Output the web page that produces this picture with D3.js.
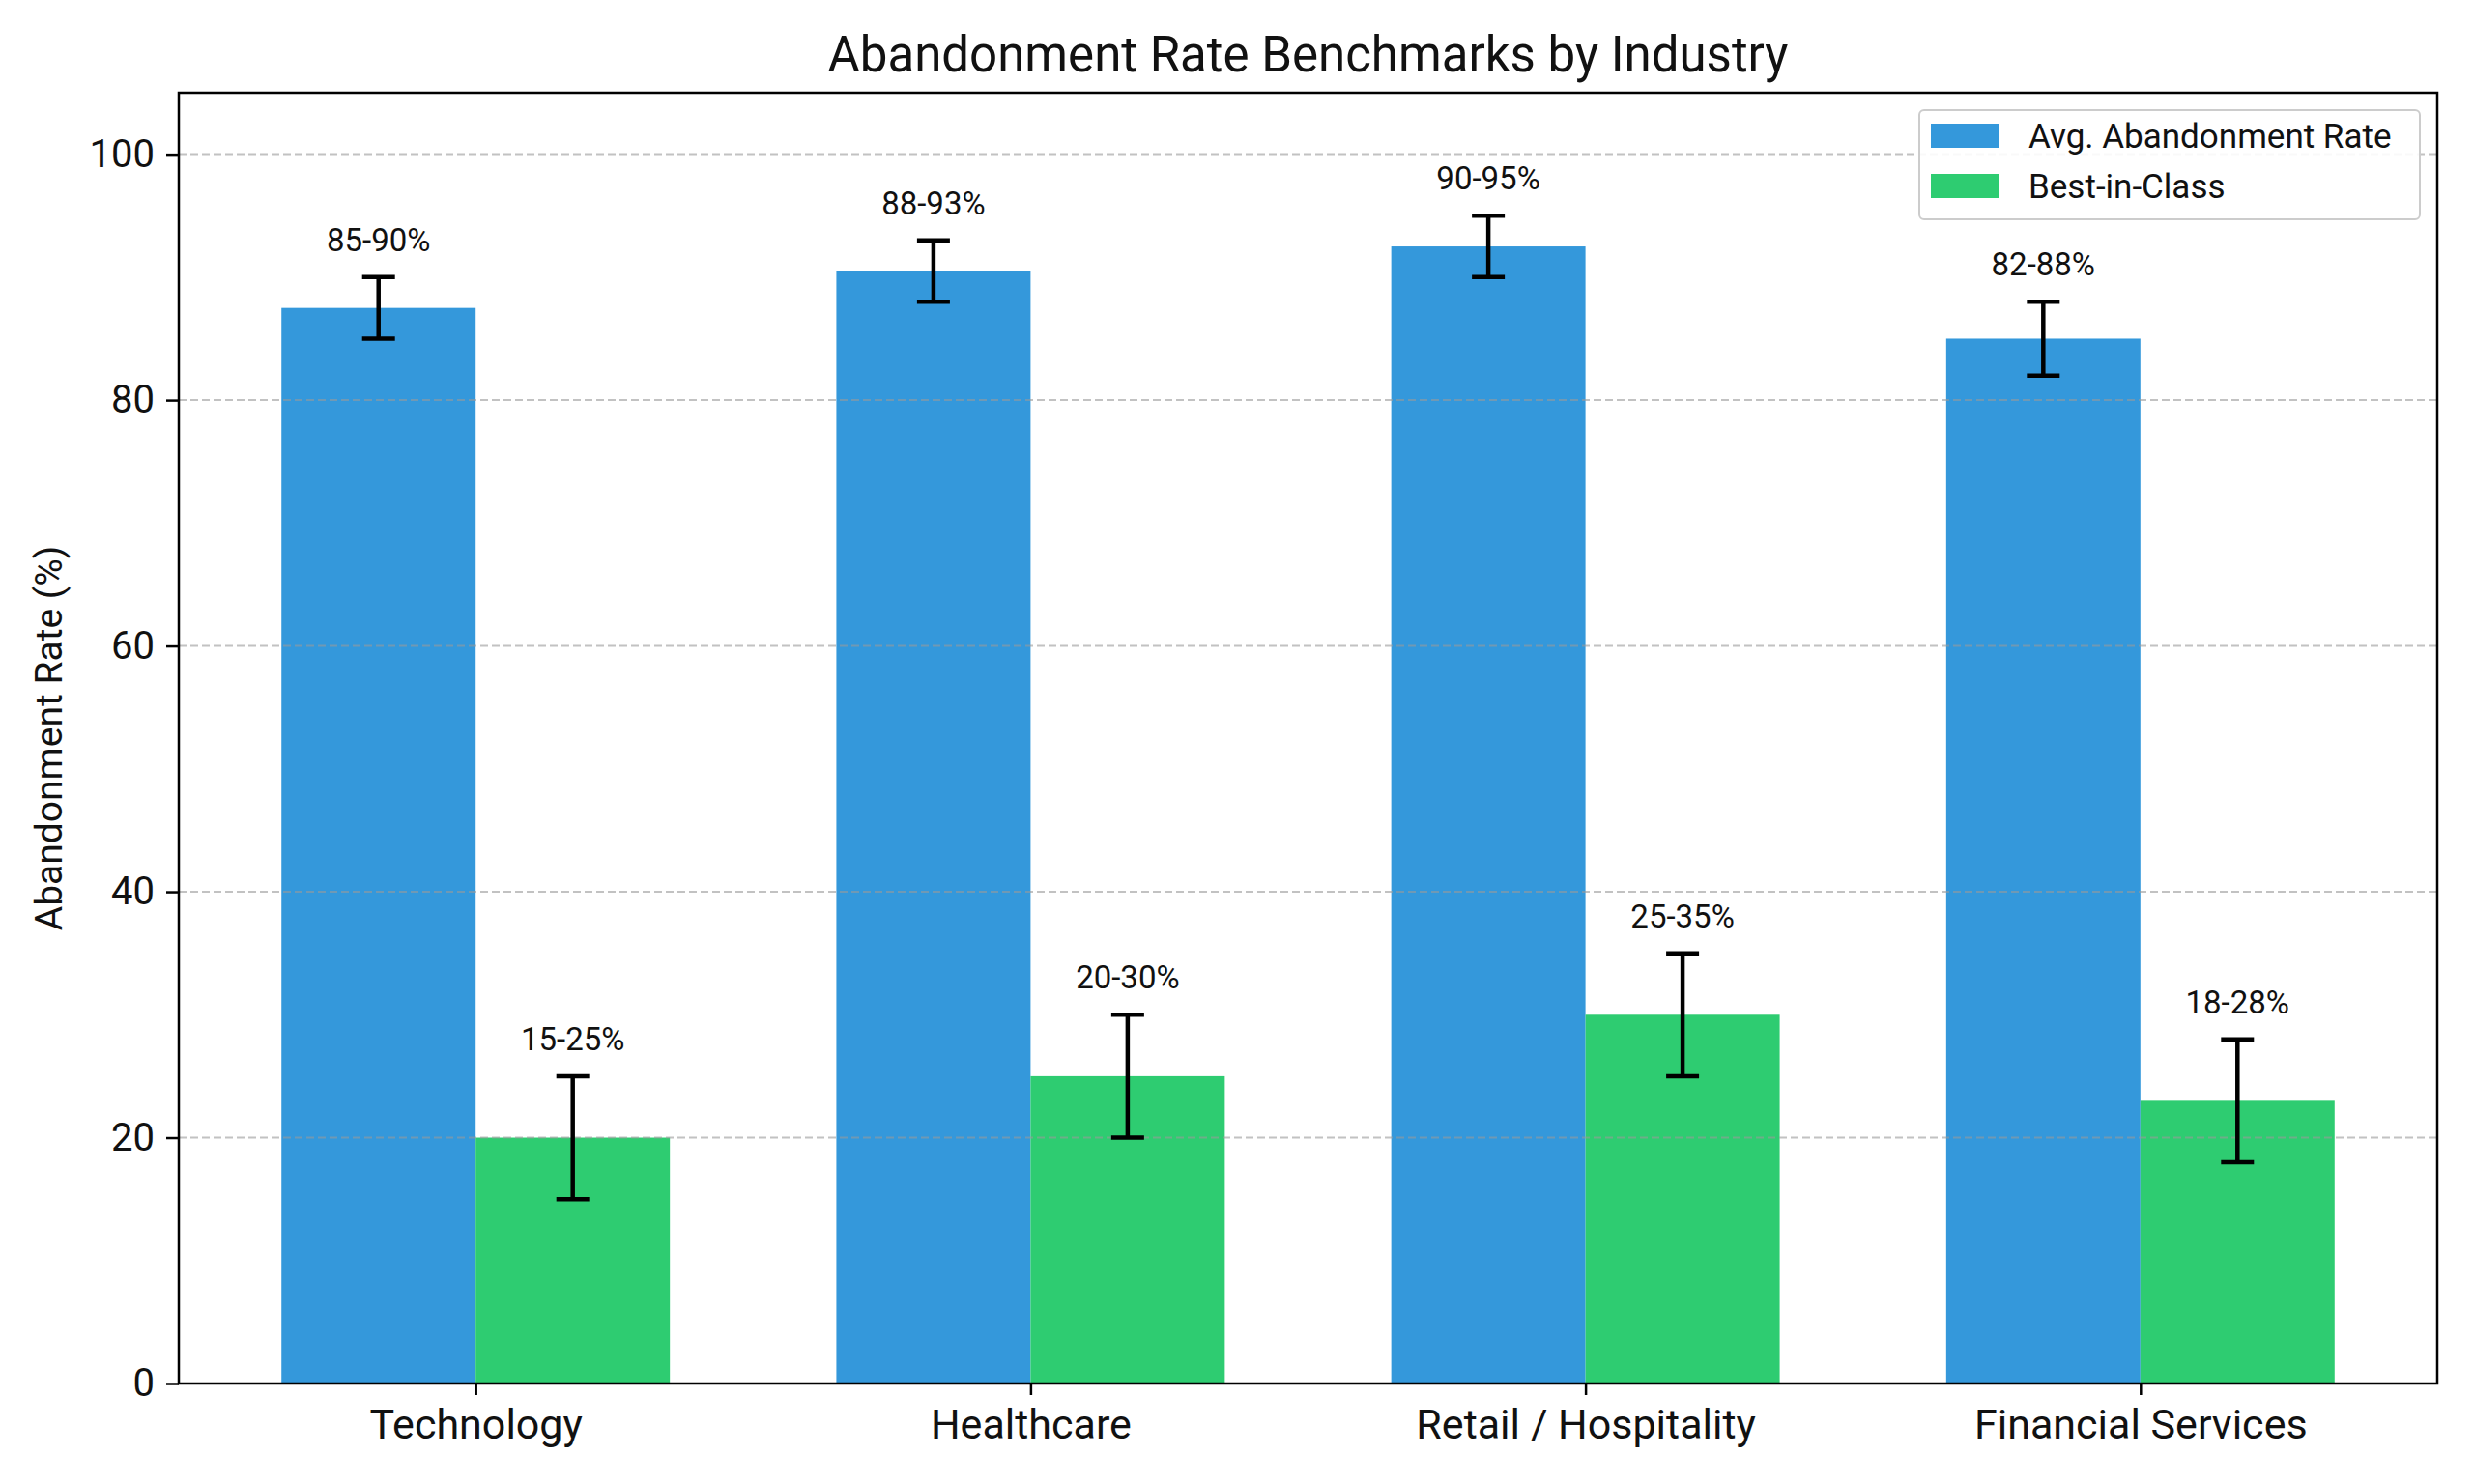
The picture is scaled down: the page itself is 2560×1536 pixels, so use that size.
<!DOCTYPE html>
<html>
<head>
<meta charset="utf-8">
<script src="https://cdn.jsdelivr.net/npm/d3@7"></script>
<style>
    body { margin:0; background:#fff; }
    text { font-family: "Roboto", "Noto Sans", sans-serif; fill:#111; }
    .tick text { font-size:40px; }
    .xaxis .tick text { font-size:43px; }
    .tick line { stroke:#000; stroke-width:2.5px; }
    .domain { display:none; }
</style>
</head>
<body>
<div id="chart"></div>
<script>
// =====================================================================
// data
var industries = ["Technology", "Healthcare", "Retail / Hospitality", "Financial Services"];
var avgRate = [87.5, 90.5, 92.5, 85];
var avgErr = [2.5, 2.5, 2.5, 3];
var avgLabels = ["85-90%", "88-93%", "90-95%", "82-88%"];
var bestRate = [20, 25, 30, 23];
var bestErr = [5, 5, 5, 5];
var bestLabels = ["15-25%", "20-30%", "25-35%", "18-28%"];
var seriesNames = ["Avg. Abandonment Rate", "Best-in-Class"];
var yTicks = [0, 20, 40, 60, 80, 100];

// =====================================================================
// global variables
var size = { width:2560, height:1536 };
var plot = { left:185, right:2522, top:96, bottom:1432 };
var colors = ["#3498db", "#2ecc71"];
var barWidth = 0.35;

var svg = d3.select("#chart").append("svg")
    .attr("width", size.width)
    .attr("height", size.height);

var x = d3.scaleLinear()
    .domain([-0.535, industries.length - 1 + 0.535])
    .range([plot.left, plot.right]);

var y = d3.scaleLinear()
    .domain([0, 105])
    .range([plot.bottom, plot.top]);

// build series table from the arrays
var series = [
    { name: seriesNames[0], values: avgRate, err: avgErr, labels: avgLabels, offset: -barWidth, color: colors[0] },
    { name: seriesNames[1], values: bestRate, err: bestErr, labels: bestLabels, offset: 0, color: colors[1] }
];

// =====================================================================
// bars
series.forEach(function(s) {
    svg.append("g").selectAll("rect")
        .data(s.values)
        .enter().append("rect")
        .attr("x", function(d, i) { return x(i + s.offset); })
        .attr("width", function(d, i) { return x(i + s.offset + barWidth) - x(i + s.offset); })
        .attr("y", function(d) { return y(d); })
        .attr("height", function(d) { return y(0) - y(d); })
        .attr("fill", s.color);
});

// grid (drawn over the bars, semi transparent)
svg.append("g").selectAll("line")
    .data(yTicks.filter(function(d){ return d > 0; }))
    .enter().append("line")
    .attr("x1", plot.left).attr("x2", plot.right)
    .attr("y1", function(d){ return y(d); })
    .attr("y2", function(d){ return y(d); })
    .attr("stroke", "#999")
    .attr("stroke-opacity", 0.6)
    .attr("stroke-width", 2)
    .attr("stroke-dasharray", "8,4");

// error bars + range labels
series.forEach(function(s) {
    var g = svg.append("g").selectAll("g")
        .data(s.values)
        .enter().append("g");
    var cx = function(d, i) { return x(i + s.offset + barWidth / 2); };

    g.append("line")
        .attr("x1", cx).attr("x2", cx)
        .attr("y1", function(d, i){ return y(d - s.err[i]); })
        .attr("y2", function(d, i){ return y(d + s.err[i]); })
        .attr("stroke", "#000").attr("stroke-width", 4.5);

    [-1, 1].forEach(function(sign) {
        g.append("line")
            .attr("x1", function(d, i){ return cx(d, i) - 17; })
            .attr("x2", function(d, i){ return cx(d, i) + 17; })
            .attr("y1", function(d, i){ return y(d + sign * s.err[i]); })
            .attr("y2", function(d, i){ return y(d + sign * s.err[i]); })
            .attr("stroke", "#000").attr("stroke-width", 4.5);
    });

    g.append("text")
        .attr("x", cx)
        .attr("y", function(d, i){ return y(d + s.err[i]) - 27; })
        .attr("text-anchor", "middle")
        .style("font-size", "33px")
        .text(function(d, i){ return s.labels[i]; });
});

// =====================================================================
// axes
var xAxis = d3.axisBottom(x)
    .tickValues(d3.range(industries.length))
    .tickFormat(function(d){ return industries[d]; })
    .tickSize(12).tickPadding(14);
svg.append("g")
    .attr("class", "xaxis")
    .attr("transform", "translate(0," + plot.bottom + ")")
    .call(xAxis);

var yAxis = d3.axisLeft(y)
    .tickValues(yTicks)
    .tickSize(13).tickPadding(12);
svg.append("g")
    .attr("transform", "translate(" + plot.left + ",0)")
    .call(yAxis);

// frame
svg.append("rect")
    .attr("x", plot.left).attr("y", plot.top)
    .attr("width", plot.right - plot.left)
    .attr("height", plot.bottom - plot.top)
    .attr("fill", "none")
    .attr("stroke", "#000")
    .attr("stroke-width", 2.5);

// titles
svg.append("text")
    .attr("x", (plot.left + plot.right) / 2)
    .attr("y", 74)
    .attr("text-anchor", "middle")
    .style("font-size", "51px")
    .text("Abandonment Rate Benchmarks by Industry");

svg.append("text")
    .attr("transform", "translate(64," + (plot.top + plot.bottom) / 2 + ") rotate(-90)")
    .attr("text-anchor", "middle")
    .style("font-size", "39px")
    .text("Abandonment Rate (%)");

// =====================================================================
// legend
var legend = svg.append("g").attr("transform", "translate(1986,114)");
legend.append("rect")
    .attr("width", 518).attr("height", 113)
    .attr("rx", 5)
    .attr("fill", "#fff").attr("fill-opacity", 0.9)
    .attr("stroke", "#ccc").attr("stroke-width", 2);

var item = legend.selectAll(".item")
    .data(series)
    .enter().append("g")
    .attr("class", "item")
    .attr("transform", function(d, i){ return "translate(12," + (14 + i * 52) + ")"; });
item.append("rect")
    .attr("width", 70).attr("height", 25)
    .attr("fill", function(d){ return d.color; });
item.append("text")
    .attr("x", 101).attr("y", 13)
    .attr("dy", "0.35em")
    .style("font-size", "35px")
    .text(function(d){ return d.name; });
</script>
</body>
</html>
